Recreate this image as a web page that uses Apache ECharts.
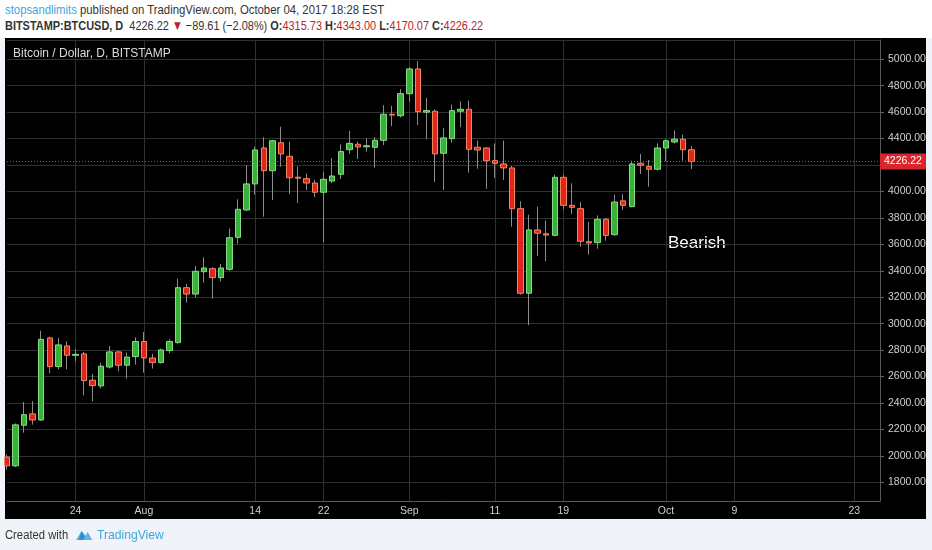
<!DOCTYPE html>
<html lang="en">
<head>
<meta charset="UTF-8">
<title>Bitcoin / Dollar, D, BITSTAMP</title>
<script src="https://cdn.jsdelivr.net/npm/echarts@6/dist/echarts.min.js"></script>
<style>
  body { margin: 0; width: 932px; height: 550px; overflow: hidden; background: #f0f3f7; position: relative;
         font-family: "Liberation Sans", Arial, sans-serif; }
  #top { position: absolute; left: 0; top: 0; width: 932px; height: 38px; background: #fff; }
  .hl { position: absolute; left: 5px; font-size: 13.5px; color: #333; white-space: nowrap;
        transform: scaleX(0.84); transform-origin: 0 0; }
  #h1 { top: 2px; }
  #h2 { top: 18px; transform: scaleX(0.81); }
  .blue { color: #3ea6dd; }
  .red { color: #b7262b; }
  #panel { position: absolute; left: 5px; top: 38px; width: 921px; height: 481px; background: #000; }
  #main { position: absolute; left: 0; top: 0; width: 932px; height: 550px; }
  #foot { position: absolute; left: 5px; top: 527px; font-size: 12.5px; color: #333; white-space: nowrap;
          transform: scaleX(0.9); transform-origin: 0 0; }
  #foot svg { vertical-align: -3px; margin: 0 4px 0 8px; }
  #foot .blue { font-size: 13.5px; }
</style>
</head>
<body>
<div id="top">
  <div class="hl" id="h1"><span class="blue">stopsandlimits</span> published on TradingView.com, October 04, 2017 18:28 EST</div>
  <div class="hl" id="h2"><b>BITSTAMP:BTCUSD, D</b>&nbsp; 4226.22 <span class="red">▼</span> −89.61 (−2.08%) <b>O:</b><span class="red">4315.73</span> <b>H:</b><span class="red">4343.00</span> <b>L:</b><span class="red">4170.07</span> <b>C:</b><span class="red">4226.22</span></div>
</div>
<div id="panel"></div>
<div id="main"></div>
<div id="foot">Created with<svg width="20" height="14" viewBox="0 0 20 14"><path d="M1 12 L7 3 L11 8 L14 4 L19 12 Z" fill="#5bb8e6"/><path d="M7 3 L11 8 L9 12 L4 12 Z" fill="#2f8fcf"/></svg><span class="blue">TradingView</span></div>
<script type="text/javascript">
// daily candles, Jul 16 - Oct 4 2017
var dates = ['07-16','07-17','07-18','07-19','07-20','07-21','07-22','07-23','07-24','07-25','07-26','07-27','07-28','07-29','07-30','07-31',
  '08-01','08-02','08-03','08-04','08-05','08-06','08-07','08-08','08-09','08-10','08-11','08-12','08-13','08-14','08-15','08-16',
  '08-17','08-18','08-19','08-20','08-21','08-22','08-23','08-24','08-25','08-26','08-27','08-28','08-29','08-30','08-31',
  '09-01','09-02','09-03','09-04','09-05','09-06','09-07','09-08','09-09','09-10','09-11','09-12','09-13','09-14','09-15','09-16',
  '09-17','09-18','09-19','09-20','09-21','09-22','09-23','09-24','09-25','09-26','09-27','09-28','09-29','09-30',
  '10-01','10-02','10-03','10-04'];
// empty days to the right of the last candle
var futureDates = ['10-05','10-06','10-07','10-08','10-09','10-10','10-11','10-12','10-13','10-14','10-15','10-16','10-17',
  '10-18','10-19','10-20','10-21','10-22','10-23','10-24','10-25','10-26'];

var opens  = [1990,1924,2231,2317,2271,2892,2675,2831,2760,2771,2572,2529,2672,2786,2685,2750,
  2865,2740,2705,2796,2856,3272,3224,3393,3416,3348,3411,3653,3860,4057,4329,4157,
  4369,4266,4108,4097,4064,3994,4079,4130,4316,4357,4338,4334,4387,4584,4573,
  4740,4927,4600,4607,4289,4400,4607,4622,4334,4329,4233,4208,4178,3870,3230,3709,
  3680,3668,4107,3895,3870,3620,3613,3789,3673,3929,3885,4213,4188,4168,
  4329,4374,4395,4315.73];
var closes = [1924,2234,2311,2271,2881,2675,2839,2761,2768,2569,2531,2678,2786,2685,2747,2865,
  2740,2705,2801,2865,3272,3224,3396,3421,3348,3421,3650,3865,4057,4314,4157,4384,
  4284,4104,4100,4064,3994,4092,4117,4302,4364,4337,4346,4387,4584,4578,4740,
  4927,4604,4612,4284,4405,4611,4622,4319,4314,4233,4213,4178,3870,3230,3709,3684,
  3670,4107,3895,3880,3623,3610,3789,3668,3920,3895,4208,4198,4168,4329,
  4384,4395,4315.73,4226.22];
var lows   = [1895,1915,2175,2236,2265,2625,2655,2655,2715,2458,2413,2510,2660,2640,2584,2690,
  2629,2660,2700,2776,2850,3159,3199,3310,3189,3320,3400,3603,3850,3976,3809,3936,
  4188,3979,3913,4009,3958,3616,4064,4094,4286,4246,4301,4180,4352,4493,4560,
  4679,4503,4395,4072,4011,4369,4486,4142,4172,4021,4102,4087,3734,3219,2988,3512,
  3472,3660,3865,3830,3582,3522,3567,3628,3665,3860,3880,4132,4036,4160,
  4228,4364,4233,4170.07];
var highs  = [2010,2245,2407,2413,2947,2900,2892,2867,2806,2786,2619,2705,2831,2795,2781,2897,
  2937,2771,2811,2882,3340,3300,3436,3502,3425,3451,3719,3941,4198,4339,4410,4390,
  4490,4377,4190,4135,4089,4150,4251,4357,4458,4377,4402,4412,4653,4649,4775,
  4942,4987,4707,4622,4480,4657,4682,4687,4384,4335,4364,4384,4193,3926,3825,3885,
  3779,4127,4127,4062,3920,3769,3819,3800,3976,3981,4233,4284,4238,4364,
  4395,4460,4430,4343];

var lastClose = 4226.22;

// labelled days on the time axis
var tickDates = ['07-24','08-01','08-14','08-22','09-01','09-11','09-19','10-01','10-09','10-23'];
var tickTexts = ['24','Aug','14','22','Sep','11','19','Oct','9','23'];

var allDates = dates.concat(futureDates);
var wickData = dates.map(function (d, i) { return [opens[i], closes[i], lows[i], highs[i]]; });
var bodyData = dates.map(function (d, i) {
  return [opens[i], closes[i], Math.min(opens[i], closes[i]), Math.max(opens[i], closes[i])];
});

function isTick(index, value) { return tickDates.indexOf(value) >= 0; }

var myChart = echarts.init(document.getElementById('main'));
var option = {
  backgroundColor: 'transparent',
  animation: false,
  title: {
    text: 'Bitcoin / Dollar, D, BITSTAMP',
    left: 8, top: 43,
    textStyle: { color: '#dcdcdc', fontSize: 12, fontWeight: 'normal', fontFamily: 'Liberation Sans' }
  },
  grid: { left: 7, right: 52, top: 40, bottom: 49 },
  xAxis: {
    type: 'category',
    data: allDates,
    boundaryGap: false,
    axisLine: { lineStyle: { color: '#5a5a5a' } },
    axisTick: { show: false },
    axisLabel: {
      interval: isTick,
      color: '#d0d0d0', fontSize: 10.5, margin: 5, fontFamily: 'Liberation Sans',
      formatter: function (v) {
        var k = tickDates.indexOf(v);
        return k >= 0 ? tickTexts[k] : '';
      }
    },
    splitLine: { show: true, interval: isTick, lineStyle: { color: '#303030' } }
  },
  yAxis: {
    type: 'value',
    position: 'right',
    min: 1658, max: 5146,
    minInterval: 200, maxInterval: 200, splitNumber: 17,
    axisLine: { show: true, lineStyle: { color: '#5a5a5a' } },
    axisTick: { show: true, length: 4, lineStyle: { color: '#666' } },
    axisLabel: {
      color: '#d0d0d0', fontSize: 10.5, margin: 8, fontFamily: 'Liberation Sans',
      showMinLabel: false, showMaxLabel: false,
      formatter: function (v) { return v.toFixed(2); }
    },
    splitLine: { lineStyle: { color: '#303030' } }
  },
  graphic: [{
    type: 'text', left: 668, top: 235,
    style: { text: 'Bearish', fill: '#ffffff', font: '17px "Liberation Sans"' }
  }],
  series: [{
    name: 'wicks',
    type: 'candlestick',
    data: wickData,
    barWidth: 1,
    itemStyle: { color: '#8c8c8c', color0: '#8c8c8c', borderColor: '#8c8c8c', borderColor0: '#8c8c8c', borderWidth: 1 }
  }, {
    name: 'BTCUSD',
    type: 'candlestick',
    data: bodyData,
    barWidth: 6,
    itemStyle: { color: '#39b139', color0: '#e0261b', borderColor: '#86dc86', borderColor0: '#f3875c', borderWidth: 1 },
    markLine: {
      symbol: 'none',
      silent: true,
      data: [{ yAxis: lastClose }],
      lineStyle: { color: '#ff2f2f', type: [1, 2], width: 1.2 },
      label: {
        show: true, position: 'end', distance: 0,
        formatter: lastClose.toFixed(2),
        backgroundColor: '#d9262c', color: '#fff', fontSize: 10.5, padding: [3, 4, 2, 4],
        fontFamily: 'Liberation Sans'
      }
    }
  }]
};
myChart.setOption(option);
</script>
</body>
</html>
